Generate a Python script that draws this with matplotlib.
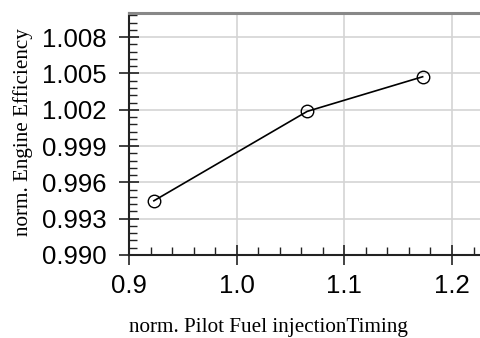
import matplotlib
matplotlib.use("Agg")
import matplotlib.pyplot as plt
from matplotlib.ticker import MultipleLocator, FormatStrFormatter

# data
timing = [0.923, 1.0655, 1.1727]
efficiency = [0.99448, 1.00187, 1.00473]

fig = plt.figure(figsize=(4.8, 3.38), dpi=100)
ax = fig.add_axes([0.269, 0.2456, 0.731, 0.716])

ax.plot(timing, efficiency, color='black', lw=1.2, marker='o', ms=9,
        mfc='none', mec='black', mew=1.0, zorder=3)

ax.set_xlim(0.9, 1.226)
ax.set_ylim(0.990, 1.010)

ax.xaxis.set_major_locator(MultipleLocator(0.1))
ax.xaxis.set_minor_locator(MultipleLocator(0.02))
ax.yaxis.set_major_locator(MultipleLocator(0.003))
ax.yaxis.set_minor_locator(MultipleLocator(0.0006))
ax.xaxis.set_major_formatter(FormatStrFormatter('%.1f'))
ax.yaxis.set_major_formatter(FormatStrFormatter('%.3f'))

ax.tick_params(which='major', direction='inout', length=14, width=1.2,
               labelsize=18.5, color='#222222')
ax.tick_params(which='minor', direction='in', length=6, width=1.0,
               color='#222222')
ax.tick_params(axis='x', which='major', pad=7)
ax.tick_params(axis='y', which='major', pad=9)
for lab in ax.get_xticklabels() + ax.get_yticklabels():
    lab.set_fontfamily('Liberation Sans')

ax.grid(True, which='major', color='#d4d4d4', lw=1.2)
ax.set_axisbelow(True)

ax.spines['left'].set_linewidth(1.5)
ax.spines['left'].set_color('#222222')
ax.spines['bottom'].set_linewidth(1.5)
ax.spines['bottom'].set_color('#222222')
ax.spines['top'].set_linewidth(2.2)
ax.spines['top'].set_color('#888888')
ax.spines['right'].set_visible(False)

ax.set_xlabel('norm. Pilot Fuel injectionTiming', family='Liberation Serif',
              fontsize=15.2)
ax.set_ylabel('norm. Engine Efficiency', family='Liberation Serif',
              fontsize=15.2)
ax.xaxis.set_label_coords(0.560, 0.059, transform=fig.transFigure)
ax.yaxis.set_label_coords(0.069, 0.609, transform=fig.transFigure)

fig.savefig('out.png', dpi=100)
